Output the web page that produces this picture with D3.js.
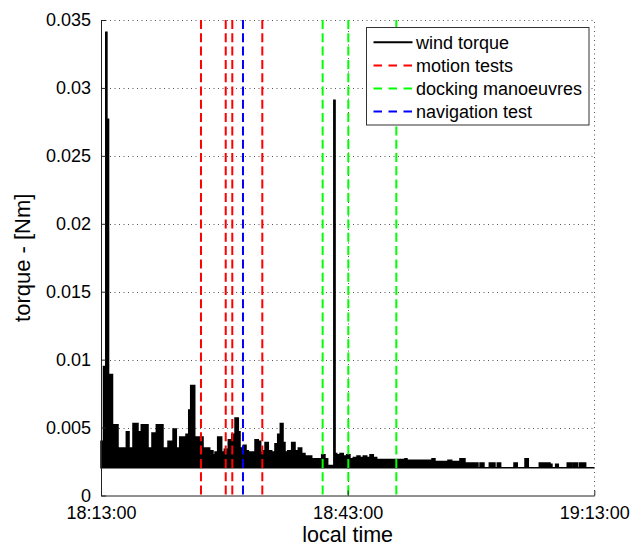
<!DOCTYPE html>
<html>
<head>
<meta charset="utf-8">
<script src="https://cdnjs.cloudflare.com/ajax/libs/d3/7.8.5/d3.min.js"></script>
<style>
  body { margin: 0; background: #fff; }
  svg { display: block; font-family: "Liberation Sans", Arial, sans-serif; }
</style>
</head>
<body>
<svg id="chart" width="633" height="547"></svg>
<script>
// wind torque trace: minutes after 18:13:00 where the level changes, and the level it steps to [Nm]
var torqueMinutes = [0, 0.30, 0.58, 0.72, 0.92, 1.40, 2.07, 3.08, 3.41, 3.89, 4.50, 4.90, 5.72, 6.20, 6.73,
  7.54, 8.15, 8.76, 9.16, 9.57, 10.34, 10.67, 10.91, 11.40, 12.41, 13.22, 13.62, 13.87, 14.19, 14.68,
  15.00, 15.48, 15.90, 16.30, 16.70, 16.91, 17.31, 17.64, 17.92, 18.73, 19.13, 19.42, 19.74, 19.95,
  20.35, 20.76, 21.16, 21.49, 21.81, 22.14, 22.38, 22.71, 23.19, 23.60, 24.00, 24.41, 24.81, 25.63,
  26.84, 27.24, 27.57, 28.32, 28.47, 28.67, 29.07, 29.47, 29.88, 30.28, 30.69, 31.14, 31.50, 31.90,
  32.32, 32.72, 33.12, 33.53, 36.97, 37.22, 40.26, 40.62, 42.20, 42.65, 43.66, 44.27, 45.85, 46.10,
  46.58, 47.23, 47.92, 48.20, 48.61, 50.23, 50.63, 51.57, 51.97, 53.31, 54.61, 54.85, 55.30, 55.62,
  56.71, 57.25, 57.44, 57.93, 58.17, 58.95, 60.0]
var torqueValues = [0.0040, 0.0095, 0.0341, 0.0277, 0.0089, 0.0052, 0.0035, 0.0047, 0.0035, 0.0053,
  0.0047, 0.0052, 0.0035, 0.0046, 0.0052, 0.0035, 0.0040, 0.0049, 0.0035, 0.0043, 0.0045, 0.0063,
  0.0081, 0.0043, 0.0035, 0.0033, 0.0030, 0.0032, 0.0043, 0.0032, 0.0034, 0.0041, 0.0045, 0.0057,
  0.0047, 0.0035, 0.0037, 0.0033, 0.0032, 0.0041, 0.0040, 0.0032, 0.0033, 0.0039, 0.0033, 0.0032,
  0.0038, 0.0045, 0.0053, 0.0039, 0.0032, 0.0033, 0.0039, 0.0033, 0.0035, 0.0031, 0.0029, 0.0027,
  0.0030, 0.0027, 0.0022, 0.0291, 0.0031, 0.0030, 0.0031, 0.0029, 0.0030, 0.0027, 0.0028, 0.0029,
  0.0028, 0.0029, 0.0028, 0.0030, 0.0028, 0.00265, 0.0027, 0.0026, 0.0027, 0.0025, 0.0026, 0.0025,
  0.0027, 0.0024, 0.00205, 0.0024, 0.00205, 0.0024, 0.00205, 0.0024, 0.00205, 0.0024, 0.00205,
  0.0027, 0.00205, 0.0024, 0.0023, 0.00205, 0.0023, 0.00205, 0.0024, 0.00205, 0.0024, 0.00205,
  0.0024, 0.00205, 0.00205]
var torqueFloor = 0.00205

// event markers, minutes after 18:13:00
var motionTests = [12.16, 15.17, 15.97, 19.62]
var navigationTests = [17.27]
var dockingManoeuvres = [26.96, 30.08, 35.92]

var yTicks = [0, 0.005, 0.01, 0.015, 0.02, 0.025, 0.03, 0.035]
var xTickLabels = ['18:13:00', '18:43:00', '19:13:00']
var legendLabels = ['wind torque', 'motion tests', 'docking manoeuvres', 'navigation test']

var svg = d3.select('#chart')
var parseTime = d3.timeParse('%H:%M:%S')
var xTicks = xTickLabels.map(parseTime)
var start = xTicks[0]
var toDate = m => new Date(start.getTime() + m * 60000)

var x = d3.scaleTime()
  .domain([start, xTicks[xTicks.length - 1]])
  .range([101, 594.3])
var y = d3.scaleLinear()
  .domain([0, 0.035])
  .range([495.5, 20])

var gridStyle = g => g.attr('stroke', '#555').attr('stroke-width', 1).attr('stroke-dasharray', '1,3.5')

// grid
svg.append('g').call(gridStyle)
  .selectAll('line').data(yTicks.slice(1)).join('line')
    .attr('x1', x.range()[0]).attr('x2', x.range()[1])
    .attr('y1', d => Math.round(y(d)) + 0.5).attr('y2', d => Math.round(y(d)) + 0.5)
svg.append('g').call(gridStyle)
  .selectAll('line').data(xTicks.slice(1)).join('line')
    .attr('x1', d => Math.round(x(d)) + 0.5).attr('x2', d => Math.round(x(d)) + 0.5)
    .attr('y1', y.range()[0]).attr('y2', y.range()[1])

// torque trace
var torque = torqueMinutes.map((m, i) => ({t: toDate(m), v: torqueValues[i]}))
var area = d3.area()
  .curve(d3.curveStepAfter)
  .x(d => x(d.t))
  .y0(y(torqueFloor))
  .y1(d => y(d.v))
svg.append('path')
  .datum(torque)
  .attr('d', area)
  .attr('fill', '#000')
  .attr('stroke', '#000')
  .attr('stroke-width', 1.5)
  .attr('stroke-linejoin', 'miter')

// event markers
var events = [
  {times: motionTests, color: '#ff0000'},
  {times: navigationTests, color: '#0000ff'},
  {times: dockingManoeuvres, color: '#00ff00'}
]
events.forEach(ev => {
  svg.append('g')
    .selectAll('line').data(ev.times).join('line')
      .attr('x1', d => x(toDate(d))).attr('x2', d => x(toDate(d)))
      .attr('y1', y.range()[1]).attr('y2', y.range()[0])
      .attr('stroke', ev.color)
      .attr('stroke-width', 2)
      .attr('stroke-dasharray', '9,4.3')
})

// axes
var yAxis = d3.axisLeft(y)
  .tickValues(yTicks)
  .tickFormat(d3.format('.3~f'))
  .tickSize(-5)
  .tickSizeOuter(0)
  .tickPadding(10)
var xAxis = d3.axisBottom(x)
  .tickValues(xTicks)
  .tickFormat(d3.timeFormat('%H:%M:%S'))
  .tickSize(-5)
  .tickSizeOuter(0)
  .tickPadding(11)

svg.append('g')
  .attr('transform', `translate(${x.range()[0]},0)`)
  .call(yAxis)
  .call(g => g.selectAll('text').attr('font-size', 18).attr('fill', '#000'))
  .call(g => g.selectAll('path, line').attr('stroke', '#222'))
  .attr('font-size', null).attr('font-family', null)

svg.append('g')
  .attr('transform', `translate(0,${y.range()[0]})`)
  .call(xAxis)
  .call(g => g.selectAll('text').attr('font-size', 18).attr('fill', '#000'))
  .call(g => g.selectAll('path, line').attr('stroke', '#222'))
  .attr('font-size', null).attr('font-family', null)

// axis titles
svg.append('text')
  .attr('x', (x.range()[0] + x.range()[1]) / 2)
  .attr('y', 542)
  .attr('text-anchor', 'middle')
  .attr('font-size', 21.5)
  .text('local time')
svg.append('text')
  .attr('transform', `translate(30,${(y.range()[0] + y.range()[1]) / 2}) rotate(-90)`)
  .attr('text-anchor', 'middle')
  .attr('font-size', 22)
  .text('torque - [Nm]')

// legend
var legendStyles = [
  {color: '#000', dash: null},
  {color: '#ff0000', dash: '8.5,6.5'},
  {color: '#00ff00', dash: '8.5,6.5'},
  {color: '#0000ff', dash: '8.5,6.5'}
]
var legend = svg.append('g')
legend.append('rect')
  .attr('x', 366.5).attr('y', 27.5)
  .attr('width', 222.5).attr('height', 97.5)
  .attr('fill', '#fff')
  .attr('stroke', '#333')
  .attr('stroke-width', 1)
var row = legend.selectAll('g.row').data(legendLabels).join('g')
  .attr('class', 'row')
  .attr('transform', (d, i) => `translate(0,${42.3 + i * 23.1})`)
row.append('line')
  .attr('x1', 373.5).attr('x2', 412.5)
  .attr('stroke', (d, i) => legendStyles[i].color)
  .attr('stroke-width', 2)
  .attr('stroke-dasharray', (d, i) => legendStyles[i].dash)
row.append('text')
  .attr('x', 416)
  .attr('dy', '0.35em')
  .attr('font-size', 18)
  .text(d => d)
</script>
</body>
</html>
